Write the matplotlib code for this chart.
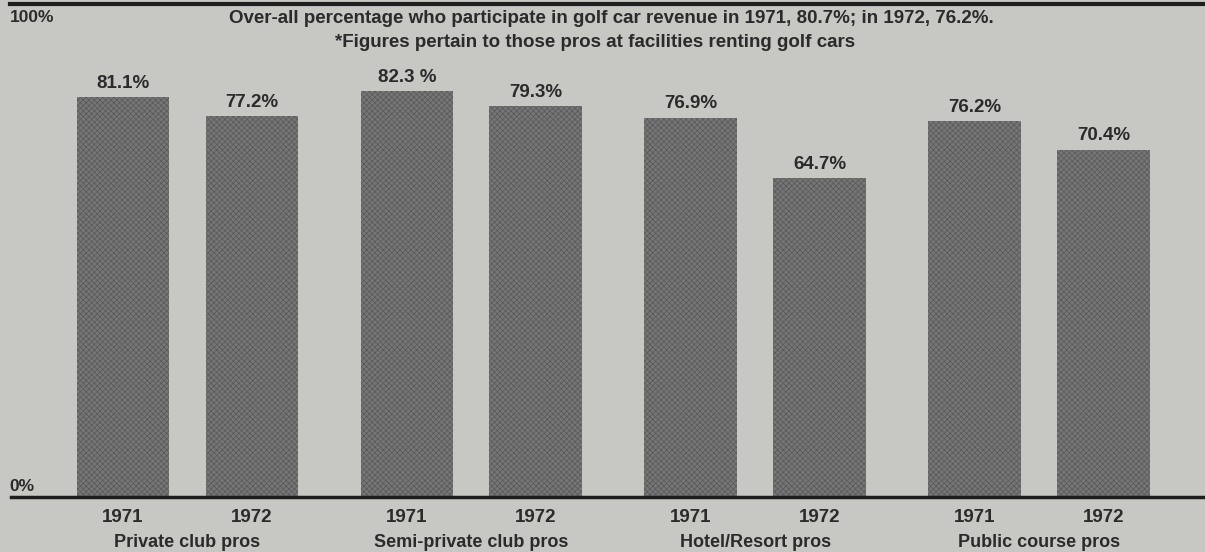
import numpy as np
import matplotlib.pyplot as plt

groups = ["Private club pros", "Semi-private club pros", "Hotel/Resort pros", "Public course pros"]
years = ["1971", "1972"]
pct_1971 = [81.1, 82.3, 76.9, 76.2]
pct_1972 = [77.2, 79.3, 64.7, 70.4]
labels_1971 = ["81.1%", "82.3 %", "76.9%", "76.2%"]
labels_1972 = ["77.2%", "79.3%", "64.7%", "70.4%"]

bg = "#c7c7c4"
bar_col = "#767676"
txt = "#2b2b2b"

plt.rcParams['font.family'] = ['Liberation Sans', 'DejaVu Sans']
plt.rcParams['font.weight'] = 'bold'
plt.rcParams['hatch.linewidth'] = 0.5

fig = plt.figure(figsize=(12.05, 5.52), dpi=100, facecolor=bg)
ax = fig.add_axes([0, 0.0996, 1, 0.893], facecolor=bg)

x = np.arange(len(groups))
off = 0.227
w = 0.326
b1 = ax.bar(x - off, pct_1971, w, color=bar_col, hatch="xxxxxx", edgecolor="#585858", linewidth=0)
b2 = ax.bar(x + off, pct_1972, w, color=bar_col, hatch="xxxxxx", edgecolor="#585858", linewidth=0)

for bars, labs in ((b1, labels_1971), (b2, labels_1972)):
    for r, lab in zip(bars, labs):
        ax.annotate(lab, (r.get_x() + r.get_width() / 2, r.get_height()),
                    xytext=(0, 4), textcoords="offset points",
                    ha="center", va="bottom", fontsize=13.5, color=txt)

ax.set_xlim(-0.66, 3.585)
ax.set_ylim(0, 100)
for s in ax.spines.values():
    s.set_visible(False)
ax.set_xticks([])
ax.set_yticks([])

ax.axhline(100, xmin=0.008, xmax=1, color="#1e1e1e", lw=3, clip_on=False)
ax.axhline(0, xmin=0.009, xmax=1, color="#1e1e1e", lw=2.5, clip_on=False)

ax.text(0.008, 0.972, "100%", transform=ax.transAxes, ha="left", va="center", fontsize=12.5, color=txt)
ax.text(0.008, 0.022, "0%", transform=ax.transAxes, ha="left", va="center", fontsize=12.5, color=txt)

ax.text(0.507, 0.971, "Over-all percentage who participate in golf car revenue in 1971, 80.7%; in 1972, 76.2%.",
        transform=ax.transAxes, ha="center", va="center", fontsize=13.5, color=txt)
ax.text(0.494, 0.922, "*Figures pertain to those pros at facilities renting golf cars",
        transform=ax.transAxes, ha="center", va="center", fontsize=13.5, color=txt)

for i, g in enumerate(groups):
    for j, yr in enumerate(years):
        ax.annotate(yr, (x[i] + (2 * j - 1) * off, 0), xytext=(0, -15), textcoords="offset points",
                    ha="center", va="center", fontsize=13.5, color=txt, annotation_clip=False)
    ax.annotate(g, (x[i], 0), xytext=(0, -33), textcoords="offset points",
                ha="center", va="center", fontsize=13, color=txt, annotation_clip=False)

fig.savefig("out.png", dpi=100, facecolor=bg)
